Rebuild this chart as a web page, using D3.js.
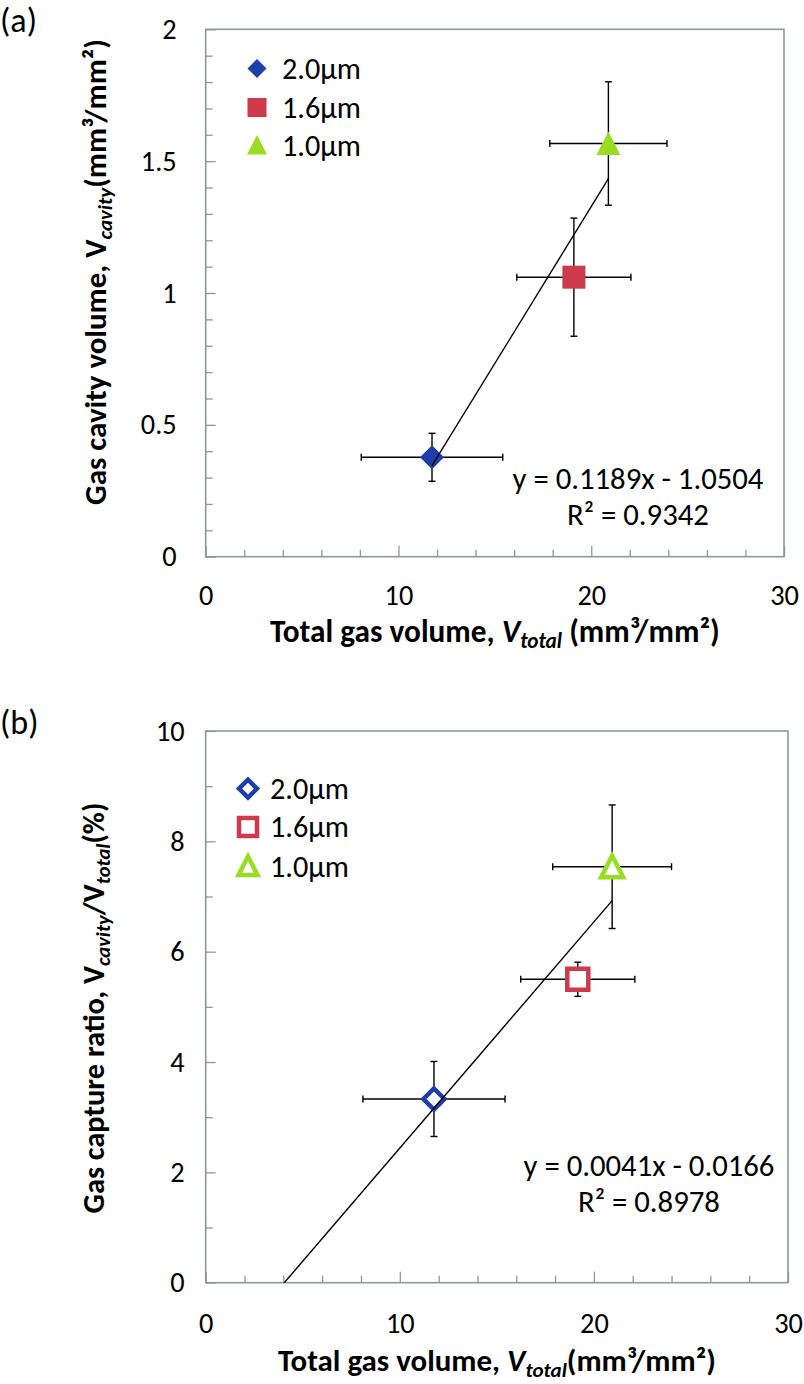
<!DOCTYPE html>
<html>
<head>
<meta charset="utf-8">
<script src="https://cdn.jsdelivr.net/npm/d3@7"></script>
<style>
  html, body { margin: 0; padding: 0; background: #fff; }
  svg { display: block; }
  text { font-family: Carlito, Lato, "Open Sans", sans-serif; fill: #000; }
</style>
</head>
<body>
<svg id="chart" width="804" height="1384"></svg>
<script>
// ---------------- data ----------------
const sizeLabels = ["2.0μm", "1.6μm", "1.0μm"];
const seriesColors = ["#1E3FAA", "#CD3A4B", "#99DD22"];
const seriesShapes = ["diamond", "square", "triangle"];

// panel (a)
const totalVolA = [11.74, 19.10, 20.89];
const totalVolErrA = [3.67, 2.96, 3.04];
const cavityVolA = [0.377, 1.060, 1.567];
const cavityVolErrA = [0.091, 0.224, 0.234];
const fitA = [0.1189, -1.0504];       // slope, intercept
const fitTextA = ["y = 0.1189x - 1.0504", "R² = 0.9342"];

// panel (b)
const totalVolB = [11.76, 19.17, 20.94];
const totalVolErrB = [3.66, 2.94, 3.06];
const captureRatioB = [3.33, 5.50, 7.54];
const captureRatioErrB = [0.68, 0.31, 1.12];
const fitB = [0.0041, -0.0166];       // slope, intercept (fraction)
const fitTextB = ["y = 0.0041x - 0.0166", "R² = 0.8978"];

const xTickLabels = [0, 10, 20, 30];
const xMinorTicks = [2, 4, 6, 8, 12, 14, 16, 18, 22, 24, 26, 28];
const yTicksA = [0, 0.5, 1, 1.5, 2];
const yMinorA = [0.1,0.2,0.3,0.4,0.6,0.7,0.8,0.9,1.1,1.2,1.3,1.4,1.6,1.7,1.8,1.9];
const yTicksB = [0, 2, 4, 6, 8, 10];
const yMinorB = [1, 3, 5, 7, 9];

// ---------------- drawing ----------------
const svg = d3.select("#chart");
const axisColor = "#8A9A9A";

function sizeFor(str, target, weight) {
  const t = svg.append("text").style("font-size", "20px").style("font-weight", weight || "normal").text(str);
  const w = t.node().getComputedTextLength();
  t.remove();
  return 20 * target / w;
}
function fitWidth(sel, target) {
  const fs0 = parseFloat(sel.style("font-size"));
  const w = sel.node().getComputedTextLength();
  sel.style("font-size", (fs0 * target / w) + "px");
}

const tickFS = sizeFor("10", 28.7);
const legendFS = sizeFor("2.0μm", 79);
const eqFS = sizeFor("y = 0.1189x - 1.0504", 251);
const tagFS = sizeFor("(a)", 37);

const customSymbol = shape => ({
  draw(ctx, size) {
    const s = Math.sqrt(size), h = s / 2;
    if (shape === "diamond") { ctx.moveTo(0,-h); ctx.lineTo(h,0); ctx.lineTo(0,h); ctx.lineTo(-h,0); ctx.closePath(); }
    else if (shape === "square") { ctx.moveTo(-h,-h); ctx.lineTo(h,-h); ctx.lineTo(h,h); ctx.lineTo(-h,h); ctx.closePath(); }
    else { ctx.moveTo(0,-h); ctx.lineTo(h,h*0.95); ctx.lineTo(-h,h*0.95); ctx.closePath(); }
  }
});

function drawPanel(cfg) {
  const { left, right, top, bottom } = cfg;
  const x = d3.scaleLinear().domain([0, 30]).range([left, right]);
  const y = d3.scaleLinear().domain(cfg.yDomain).range([bottom, top]);
  const g = svg.append("g");

  const clipId = "clip" + cfg.id;
  svg.append("clipPath").attr("id", clipId)
    .append("rect").attr("x", left).attr("y", top)
    .attr("width", right - left).attr("height", bottom - top);

  const styleAxis = sel => {
    sel.select(".domain").remove();
    sel.selectAll(".tick line").attr("stroke", axisColor).attr("stroke-width", 1.3);
    sel.selectAll("text").style("font-size", tickFS + "px").attr("fill", "#000");
  };
  g.append("g").attr("transform", `translate(0,${bottom})`)
    .call(d3.axisBottom(x).tickValues(xMinorTicks).tickSize(-7).tickFormat(""))
    .call(styleAxis);
  g.append("g").attr("transform", `translate(0,${bottom})`)
    .call(d3.axisBottom(x).tickValues(xTickLabels).tickSize(-11).tickFormat(d3.format("d")))
    .call(styleAxis)
    .call(s => s.selectAll("text").attr("y", cfg.xLabelOff - 0.35 * tickFS));
  g.append("g").attr("transform", `translate(${left},0)`)
    .call(d3.axisLeft(y).tickValues(cfg.yMinor).tickSize(-7).tickFormat(""))
    .call(styleAxis);
  g.append("g").attr("transform", `translate(${left},0)`)
    .call(d3.axisLeft(y).tickValues(cfg.yTicks).tickSize(-10).tickFormat(d => String(d)))
    .call(styleAxis)
    .call(s => s.selectAll("text").attr("x", -cfg.yPad));

  g.append("rect").attr("x", left).attr("y", top)
    .attr("width", right - left).attr("height", bottom - top)
    .attr("fill", "none").attr("stroke", axisColor).attr("stroke-width", 1.6);

  const pts = cfg.xs.map((xv, i) => ({ i, x: xv, xe: cfg.xErr[i], y: cfg.ys[i], ye: cfg.yErr[i] }));

  // error bars
  const eb = g.append("g").attr("stroke", "#000").attr("stroke-width", 1.4);
  const cap = 3.5;
  pts.forEach(p => {
    const cx = x(p.x), cy = y(p.y);
    eb.append("line").attr("x1", x(p.x - p.xe)).attr("x2", x(p.x + p.xe)).attr("y1", cy).attr("y2", cy);
    eb.append("line").attr("x1", x(p.x - p.xe)).attr("x2", x(p.x - p.xe)).attr("y1", cy - cap).attr("y2", cy + cap);
    eb.append("line").attr("x1", x(p.x + p.xe)).attr("x2", x(p.x + p.xe)).attr("y1", cy - cap).attr("y2", cy + cap);
    eb.append("line").attr("x1", cx).attr("x2", cx).attr("y1", y(p.y - p.ye)).attr("y2", y(p.y + p.ye));
    eb.append("line").attr("x1", cx - cap).attr("x2", cx + cap).attr("y1", y(p.y - p.ye)).attr("y2", y(p.y - p.ye));
    eb.append("line").attr("x1", cx - cap).attr("x2", cx + cap).attr("y1", y(p.y + p.ye)).attr("y2", y(p.y + p.ye));
  });

  // markers
  g.append("g").selectAll("path").data(pts).join("path")
    .attr("transform", p => `translate(${x(p.x)},${y(p.y)})`)
    .attr("d", p => d3.symbol().type(customSymbol(seriesShapes[p.i])).size(cfg.markerSize[p.i] ** 2)())
    .attr("fill", p => cfg.hollow ? "#fff" : seriesColors[p.i])
    .attr("stroke", p => cfg.hollow ? seriesColors[p.i] : "none")
    .attr("stroke-width", cfg.hollow ? 4.5 : 0);

  // trendline
  const xmin = d3.min(cfg.xs), xmax = d3.max(cfg.xs);
  const fx = v => (cfg.fit[0] * v + cfg.fit[1]) * cfg.fitScale;
  const x0 = cfg.extendBack ? 0 : xmin;
  g.append("line").attr("clip-path", `url(#${clipId})`)
    .attr("x1", x(x0)).attr("y1", y(fx(x0)))
    .attr("x2", x(xmax)).attr("y2", y(fx(xmax)))
    .attr("stroke", "#000").attr("stroke-width", 1.4);

  // legend
  const lg = g.append("g");
  sizeLabels.forEach((lab, i) => {
    const ly = cfg.legendY[i];
    lg.append("path").attr("transform", `translate(${cfg.legendX},${ly})`)
      .attr("d", d3.symbol().type(customSymbol(seriesShapes[i])).size(cfg.legendSize[i] ** 2)())
      .attr("fill", cfg.hollow ? "#fff" : seriesColors[i])
      .attr("stroke", cfg.hollow ? seriesColors[i] : "none")
      .attr("stroke-width", cfg.hollow ? 4.5 : 0);
    lg.append("text").attr("x", cfg.legendTextX).attr("y", ly + 0.35 * legendFS)
      .style("font-size", legendFS + "px").text(lab);
  });

  // equation
  cfg.fitText.forEach((t, k) => {
    g.append("text").attr("x", cfg.eqX).attr("y", cfg.eqY[k] + 0.35 * eqFS)
      .attr("text-anchor", "middle").style("font-size", eqFS + "px").text(t);
  });

  // panel tag
  g.append("text").attr("x", 0).attr("y", cfg.tagY + 0.35 * tagFS).style("font-size", tagFS + "px").text(cfg.tag);

  // x title
  const xt = g.append("text").attr("x", (left + right) / 2).attr("y", cfg.xTitleY)
    .attr("text-anchor", "middle").style("font-size", "24px").style("font-weight", "bold");
  xt.append("tspan").text("Total gas volume, ");
  xt.append("tspan").style("font-style", "italic").text("V");
  xt.append("tspan").style("font-style", "italic").style("font-size", "0.68em").attr("dy", "0.3em").text("total");
  xt.append("tspan").attr("dy", "-0.2em").text(cfg.xTitleTail);
  fitWidth(xt, cfg.xTitleW);
  xt.attr("y", cfg.xTitleY + 0.35 * parseFloat(xt.style("font-size")));

  // y title
  const yt = g.append("text")
    .attr("transform", `translate(${cfg.yTitleX},${cfg.yTitleY}) rotate(-90)`)
    .attr("text-anchor", "middle").style("font-size", "24px").style("font-weight", "bold");
  cfg.yTitleParts.forEach(p => {
    const t = yt.append("tspan").text(p.t);
    if (p.sub) t.style("font-style", "italic").style("font-size", "0.68em").attr("dy", "0.3em");
    if (p.after) t.attr("dy", "-0.2em");
  });
  fitWidth(yt, cfg.yTitleW);
}

drawPanel({
  id: "a", tag: "(a)", tagY: 20,
  left: 205.7, right: 784, top: 29.3, bottom: 556.7,
  yDomain: [0, 2], yTicks: yTicksA, yMinor: yMinorA, yPad: 29,
  xs: totalVolA, xErr: totalVolErrA, ys: cavityVolA, yErr: cavityVolErrA,
  hollow: false, markerSize: [24, 23, 24],
  fit: fitA, fitScale: 1, extendBack: false, fitText: fitTextA,
  eqX: 638, eqY: [477.8, 514.6],
  legendX: 257, legendTextX: 282, legendY: [68.4, 107.5, 145], legendSize: [19, 19, 20],
  xLabelOff: 38.5,
  xTitleY: 631, xTitleTail: " (mm³/mm²)", xTitleW: 450,
  yTitleX: 106, yTitleY: 272, yTitleW: 466,
  yTitleParts: [{ t: "Gas cavity volume, V" }, { t: "cavity", sub: true }, { t: "(mm³/mm²)", after: true }]
});

drawPanel({
  id: "b", tag: "(b)", tagY: 722,
  left: 205.7, right: 788, top: 731, bottom: 1282.7,
  yDomain: [0, 10], yTicks: yTicksB, yMinor: yMinorB, yPad: 21,
  xs: totalVolB, xErr: totalVolErrB, ys: captureRatioB, yErr: captureRatioErrB,
  hollow: true, markerSize: [21, 21, 22],
  fit: fitB, fitScale: 100, extendBack: true, fitText: fitTextB,
  eqX: 649, eqY: [1165.5, 1201.4],
  legendX: 248, legendTextX: 270, legendY: [788.6, 826.9, 866], legendSize: [18, 18, 19],
  xLabelOff: 40.5,
  xTitleY: 1360, xTitleTail: "(mm³/mm²)", xTitleW: 438,
  yTitleX: 104, yTitleY: 1008, yTitleW: 411,
  yTitleParts: [{ t: "Gas capture ratio, V" }, { t: "cavity", sub: true }, { t: "/V", after: true }, { t: "total", sub: true }, { t: "(%)", after: true }]
});
</script>
</body>
</html>
